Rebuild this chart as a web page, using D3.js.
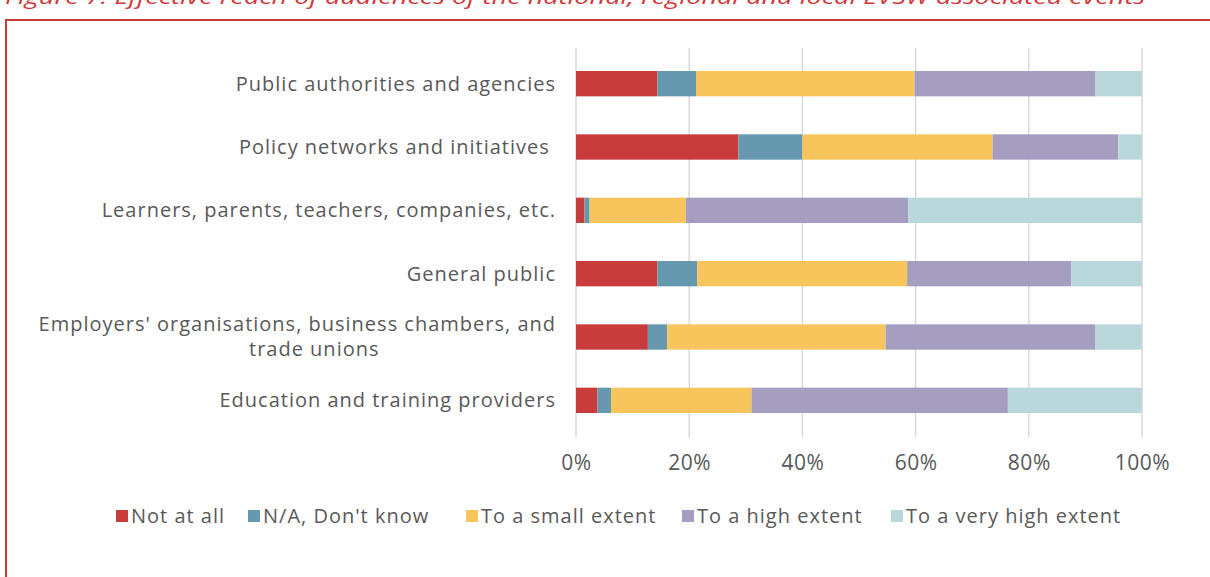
<!DOCTYPE html>
<html>
<head>
<meta charset="utf-8">
<script src="https://cdn.jsdelivr.net/npm/d3@7"></script>
<style>
  html, body { margin: 0; padding: 0; background: #ffffff; }
  svg { display: block; }
  text { font-family: "Open Sans", "DejaVu Sans", sans-serif; }
</style>
</head>
<body>
<svg id="chart" width="1210" height="577"></svg>
<script>
// Audience groups (top to bottom)
const categories = [
  "Public authorities and agencies",
  "Policy networks and initiatives ",
  "Learners, parents, teachers, companies, etc.",
  "General public",
  "Employers' organisations, business chambers, and|trade unions",
  "Education and training providers"
];

// Response shares, in percent, one array per answer
const notAtAll      = [14.4, 28.7, 1.5, 14.4, 12.7, 3.8];
const dontKnow      = [6.8, 11.3, 0.9, 7.0, 3.4, 2.4];
const smallExtent   = [38.6, 33.6, 17.0, 37.1, 38.6, 24.8];
const highExtent    = [31.9, 22.2, 39.3, 29.0, 37.0, 45.3];
const veryHighExtent= [8.3, 4.2, 41.3, 12.5, 8.3, 23.7];

const seriesNames = ["Not at all", "N/A, Don't know", "To a small extent", "To a high extent", "To a very high extent"];
const seriesColors = ["#C83C3B", "#6699B0", "#F7C55B", "#A59EC1", "#BAD8DB"];
const tickValues = [0, 20, 40, 60, 80, 100];

const title = "Figure 7: Effective reach of audiences of the national, regional and local EVSW associated events";

const svg = d3.select("#chart");
const textColor = "#595959";

// Caption (only its lower part sits inside the page) and frame
svg.append("text")
  .attr("x", 5).attr("y", 4)
  .attr("fill", "#D2383A")
  .attr("font-style", "italic")
  .attr("font-size", 20)
  .attr("textLength", 1140)
  .attr("lengthAdjust", "spacingAndGlyphs")
  .text(title);

svg.append("rect")
  .attr("x", 6).attr("y", 20)
  .attr("width", 1230).attr("height", 600)
  .attr("fill", "none")
  .attr("stroke", "#C83C3B")
  .attr("stroke-width", 2);

// Layout
const x = d3.scaleLinear().domain([0, 100]).range([576, 1142]);
const y = d3.scaleBand().domain(categories).range([52, 432]).paddingInner(0.6).paddingOuter(0.3);

const table = categories.map((c, i) => ({
  cat: c,
  values: [notAtAll[i], dontKnow[i], smallExtent[i], highExtent[i], veryHighExtent[i]]
}));
const stacked = d3.stack()
  .keys(d3.range(seriesNames.length))
  .value((d, k) => d.values[k])(table);

// Vertical gridlines with short tick stubs below the plot
svg.append("g").selectAll("line").data(tickValues).join("line")
  .attr("x1", d => x(d)).attr("x2", d => x(d))
  .attr("y1", 48).attr("y2", 437)
  .attr("stroke", "#D9D9D9")
  .attr("stroke-width", 1.5);

// Bars
svg.append("g").selectAll("g").data(stacked).join("g")
  .attr("fill", (s, i) => seriesColors[i])
  .selectAll("rect").data(s => s).join("rect")
  .attr("x", d => x(d[0]))
  .attr("width", d => x(d[1]) - x(d[0]))
  .attr("y", d => y(d.data.cat))
  .attr("height", y.bandwidth());

// X axis labels
const xAxis = d3.axisBottom(x).tickValues(tickValues).tickFormat(d => d + "%").tickSize(0);
const xg = svg.append("g").attr("transform", "translate(0,452)").call(xAxis);
xg.select(".domain").remove();
xg.selectAll("text")
  .attr("font-size", 21)
  .attr("fill", textColor)
  .attr("letter-spacing", 0.5)
  .style("font-family", "\"Open Sans\", sans-serif");

// Category labels
const labelX = 556;
categories.forEach(c => {
  const lines = c.split("|");
  const cy = y(c) + y.bandwidth() / 2;
  const lh = 25;
  const t = svg.append("text")
    .attr("font-size", 20)
    .attr("letter-spacing", 1)
    .attr("fill", textColor)
    .attr("xml:space", "preserve");
  if (lines.length === 1) {
    t.attr("x", labelX).attr("y", cy + 7).attr("text-anchor", "end").text(lines[0]);
  } else {
    t.attr("x", labelX).attr("y", cy - lh / 2 + 7 - 1).attr("text-anchor", "end").text(lines[0]);
    const w = t.node().getComputedTextLength();
    svg.append("text")
      .attr("font-size", 20)
      .attr("letter-spacing", 1)
      .attr("fill", textColor)
      .attr("x", labelX - w / 2 + 17).attr("y", cy + lh / 2 + 7 - 1)
      .attr("text-anchor", "middle")
      .text(lines[1]);
  }
});

// Legend
const legendX = [116, 248, 466, 682, 891];
const lg = svg.append("g").selectAll("g").data(seriesNames).join("g")
  .attr("transform", (d, i) => `translate(${legendX[i]},510)`);
lg.append("rect").attr("width", 12).attr("height", 12).attr("fill", (d, i) => seriesColors[i]);
lg.append("text")
  .attr("x", 15).attr("y", 13)
  .attr("font-size", 20)
  .attr("letter-spacing", 1)
  .attr("fill", textColor)
  .text(d => d);
</script>
</body>
</html>
